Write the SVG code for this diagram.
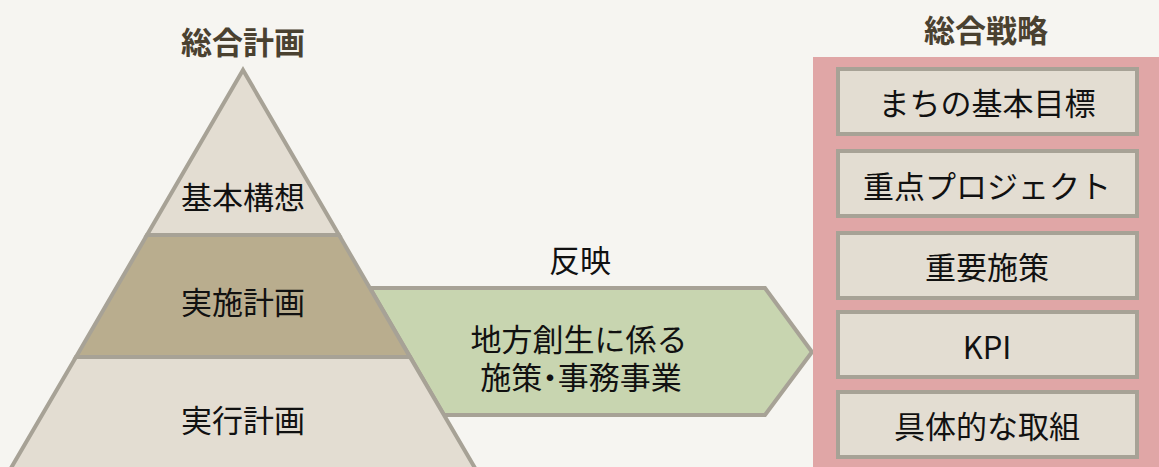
<svg xmlns="http://www.w3.org/2000/svg" width="1159" height="467" viewBox="0 0 1159 467">
<style>
.t{font-family:"Noto Sans CJK JP","Noto Sans",sans-serif;font-size:31px;fill:#111;text-anchor:middle;dominant-baseline:central}
.h{font-family:"Noto Sans CJK JP","Noto Sans",sans-serif;font-size:31px;font-weight:bold;fill:#4a4130;text-anchor:middle;dominant-baseline:central}
.p{font-feature-settings:"palt"}
.s{stroke:#a7a296;stroke-width:4;stroke-linejoin:miter}
.light{fill:#e3ddd2}
.mid{fill:#b9ad8e}
.box{fill:#e3ddd2;stroke:#a7a296;stroke-width:4}
</style>
<rect width="1159" height="467" fill="#f6f5f1"/>
<text class="h" x="243" y="40">総合計画</text>
<text class="h" x="986" y="28">総合戦略</text>
<g id="connectors">
  <polygon id="arrow" class="s" fill="#c8d5b0" points="370,288 765,288 812,352 765,415 444,415"/>
  <text class="t" x="580" y="258">反映</text>
  <text class="t" x="580" y="337"><tspan x="579" y="337">地方創生に係る</tspan><tspan class="p" x="581" y="375">施策・事務事業</tspan></text>
</g>
<g id="pyramid-top">
  <polygon class="s light" points="243,70 339,235 147,235"/>
  <text class="t" x="243" y="195">基本構想</text>
</g>
<g id="pyramid-mid">
  <polygon class="s mid" points="147,235 339,235 410,357 76,357"/>
  <text class="t" x="243" y="300">実施計画</text>
</g>
<g id="pyramid-bottom">
  <polygon class="s light" points="76,357 410,357 482,480 4,480"/>
  <text class="t" x="243" y="418">実行計画</text>
</g>
<g id="strategy">
  <rect x="813" y="57" width="350" height="420" fill="#e0a6a6"/>
</g>
<g id="box1"><rect class="box" x="838" y="69" width="299" height="65"/><text class="t" x="987" y="101">まちの基本目標</text></g>
<g id="box2"><rect class="box" x="838" y="151" width="299" height="65"/><text class="t" x="987" y="184">重点プロジェクト</text></g>
<g id="box3"><rect class="box" x="838" y="233" width="299" height="65"/><text class="t" x="987" y="265">重要施策</text></g>
<g id="box4"><rect class="box" x="838" y="312" width="299" height="65"/><text class="t" x="987" y="345">KPI</text></g>
<g id="box5"><rect class="box" x="838" y="392" width="299" height="65"/><text class="t" x="987" y="424">具体的な取組</text></g>
</svg>
